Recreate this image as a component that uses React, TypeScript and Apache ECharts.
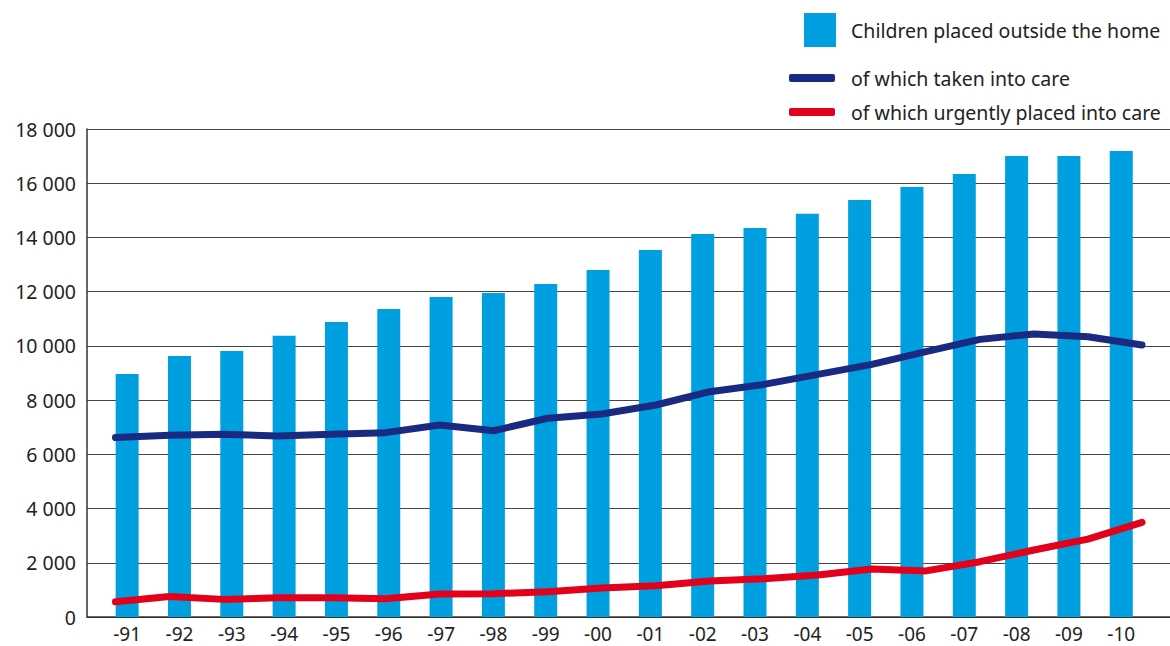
import React, { useEffect, useRef } from "react";
import * as echarts from "echarts";

const years = ["-91", "-92", "-93", "-94", "-95", "-96", "-97", "-98", "-99", "-00", "-01", "-02", "-03", "-04", "-05", "-06", "-07", "-08", "-09", "-10"];
const placedOutsideHome = [8960, 9630, 9810, 10370, 10880, 11360, 11800, 11950, 12280, 12800, 13540, 14130, 14350, 14870, 15380, 15860, 16340, 17000, 17000, 17190];
const takenIntoCare = [6620, 6700, 6740, 6680, 6740, 6800, 7080, 6870, 7330, 7490, 7820, 8310, 8580, 8950, 9320, 9790, 10240, 10440, 10340, 10030];
const urgentlyPlaced = [560, 760, 650, 710, 710, 670, 850, 860, 930, 1070, 1150, 1330, 1410, 1550, 1770, 1700, 2040, 2470, 2870, 3490];
const yTicks = { min: 0, max: 18000, interval: 2000 };

const names = ["Children placed outside the home", "of which taken into care", "of which urgently placed into care"];
const FONT = "'Noto Sans', 'Open Sans', sans-serif";
const TEXT = "#222222";
const BAR = "#009FE0";
const BLUE = "#1A2A82";
const RED = "#E2001A";
const FS = 19.5;

export default function App() {
  const ref = useRef<HTMLDivElement>(null);
  useEffect(() => {
    if (!ref.current) return;
    const chart = echarts.init(ref.current, undefined, { renderer: "svg" });
    const top = 129;
    const bottom = 29;
    const fmt = (v: number) => {
      const s = String(v);
      return s.length > 3 ? s.slice(0, s.length - 3) + " " + s.slice(s.length - 3) : s;
    };
    chart.setOption({
      animation: false,
      textStyle: { fontFamily: FONT },
      legend: [
        {
          left: 799, top: 8, itemWidth: 32, itemHeight: 34, icon: "rect",
          data: [names[0]],
          textStyle: { fontFamily: FONT, fontSize: FS, color: TEXT, padding: [0, 0, 0, 10] },
        },
        {
          left: 784, top: 63, itemWidth: 46, itemHeight: 8, icon: "roundRect",
          data: [{ name: names[1], itemStyle: { color: BLUE } }],
          textStyle: { fontFamily: FONT, fontSize: FS, color: TEXT, padding: [0, 0, 0, 11] },
        },
        {
          left: 784, top: 97, itemWidth: 46, itemHeight: 8, icon: "roundRect",
          data: [{ name: names[2], itemStyle: { color: RED } }],
          textStyle: { fontFamily: FONT, fontSize: FS, color: TEXT, padding: [0, 0, 0, 11] },
        },
      ],
      grid: [
        { left: 87, right: 0, top, bottom, containLabel: false },
        { left: 101, right: 22.6, top, bottom, containLabel: false },
        { left: 115.5, right: 28, top, bottom, containLabel: false },
      ],
      xAxis: [
        {
          gridIndex: 0, type: "value", min: 0, max: 1,
          axisLine: { show: true, onZero: false, lineStyle: { color: "#333", width: 1.5 } },
          axisTick: { show: false }, axisLabel: { show: false }, splitLine: { show: false },
        },
        {
          gridIndex: 1, type: "category", data: years, boundaryGap: true,
          axisLine: { show: false }, axisTick: { show: false },
          axisLabel: { show: true, interval: 0, margin: 7, fontFamily: FONT, fontSize: 19, color: TEXT },
          splitLine: { show: false },
        },
        {
          gridIndex: 2, type: "category", data: years, boundaryGap: false, show: false,
        },
      ],
      yAxis: [
        {
          gridIndex: 0, type: "value", ...yTicks,
          axisLine: { show: true, lineStyle: { color: "#333", width: 1.5 } },
          axisTick: { show: false },
          axisLabel: { margin: 11, fontFamily: FONT, fontSize: FS, color: TEXT, formatter: fmt },
          splitLine: { show: true, lineStyle: { color: "#444", width: 1 } },
        },
        { gridIndex: 1, type: "value", ...yTicks, show: false, splitLine: { show: false } },
        { gridIndex: 2, type: "value", ...yTicks, show: false, splitLine: { show: false } },
      ],
      series: [
        {
          name: names[0], type: "bar", xAxisIndex: 1, yAxisIndex: 1,
          data: placedOutsideHome, barWidth: 23, itemStyle: { color: BAR }, z: 3,
        },
        {
          name: names[1], type: "line", xAxisIndex: 2, yAxisIndex: 2,
          data: takenIntoCare, showSymbol: false, symbol: "none", z: 5,
          itemStyle: { color: BLUE },
          lineStyle: { color: BLUE, width: 7, cap: "round", join: "round" },
        },
        {
          name: names[2], type: "line", xAxisIndex: 2, yAxisIndex: 2,
          data: urgentlyPlaced, showSymbol: false, symbol: "none", z: 5,
          itemStyle: { color: RED },
          lineStyle: { color: RED, width: 7, cap: "round", join: "round" },
        },
      ],
    });
    return () => chart.dispose();
  }, []);
  return (
    <div
      ref={ref}
      style={{ position: "absolute", left: 0, top: 0, width: 1170, height: 646, background: "#fff" }}
    />
  );
}
